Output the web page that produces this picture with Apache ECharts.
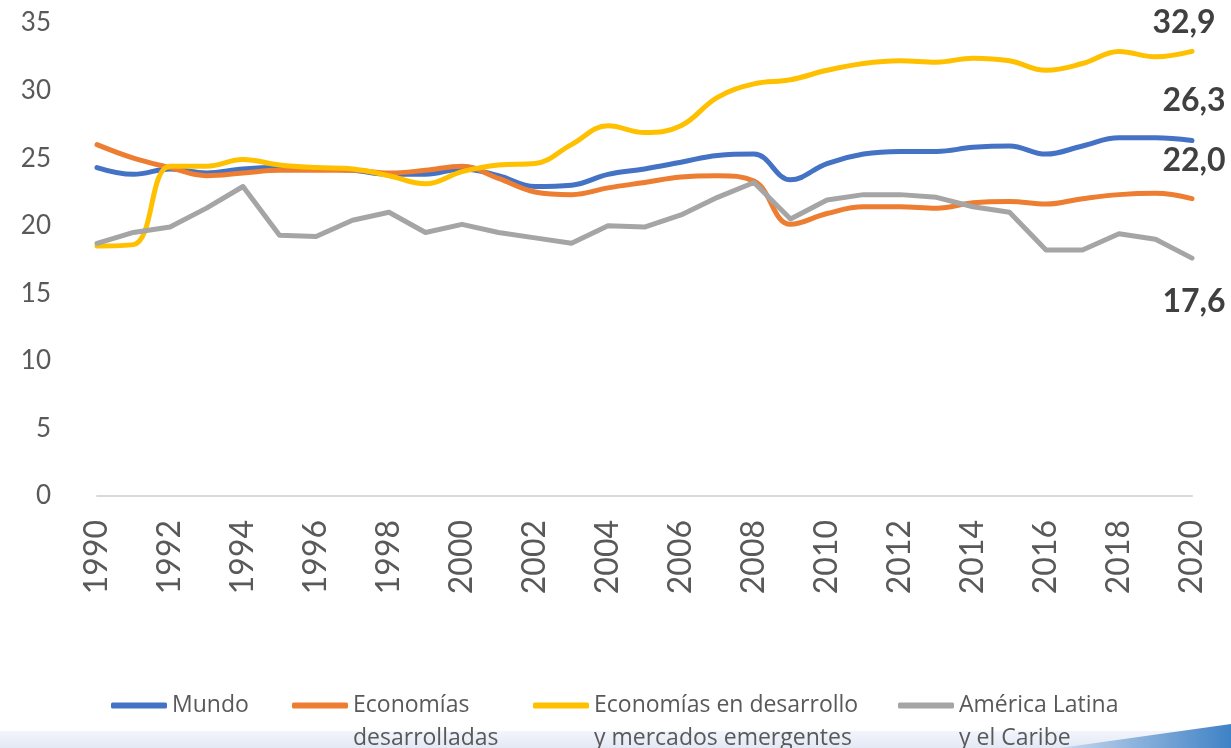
<!DOCTYPE html>
<html>
<head>
<meta charset="utf-8">
<script src="https://cdn.jsdelivr.net/npm/echarts@6/dist/echarts.min.js"></script>
<style>
html,body{margin:0;padding:0;background:#fff;}
#c{width:1231px;height:748px;}
</style>
</head>
<body>
<div id="c"></div>
<script>
const years = ['1990','1991','1992','1993','1994','1995','1996','1997','1998','1999','2000','2001','2002','2003','2004','2005','2006','2007','2008','2009','2010','2011','2012','2013','2014','2015','2016','2017','2018','2019','2020'];
const mundo = [24.3,23.8,24.2,23.9,24.2,24.3,24.2,24.1,23.8,23.8,24.2,23.7,22.9,23.0,23.8,24.2,24.7,25.2,25.3,23.4,24.6,25.3,25.5,25.5,25.8,25.9,25.3,25.9,26.5,26.5,26.3];
const desarrolladas = [26.0,25.0,24.3,23.7,23.9,24.1,24.1,24.1,23.9,24.1,24.4,23.5,22.5,22.3,22.8,23.2,23.6,23.7,23.3,20.1,20.9,21.4,21.4,21.3,21.7,21.8,21.6,22.0,22.3,22.4,22.0];
const emergentes = [18.5,18.6,24.4,24.4,24.9,24.5,24.3,24.2,23.7,23.1,24.0,24.5,24.6,26.0,27.4,26.9,27.4,29.5,30.5,30.8,31.5,32.0,32.2,32.1,32.4,32.2,31.5,32.0,32.9,32.5,32.9];
const latam = [18.7,19.5,19.9,21.3,22.9,19.3,19.2,20.4,21.0,19.5,20.1,19.5,19.1,18.7,20.0,19.9,20.8,22.1,23.2,20.5,21.9,22.3,22.3,22.1,21.4,21.0,18.2,18.2,19.4,19.0,17.6];
const names = ['Mundo','Economías\ndesarrolladas','Economías en desarrollo\ny mercados emergentes','América Latina\ny el Caribe'];
const colors = ['#4472C4','#ED7D31','#FFC000','#A5A5A5'];
const yTicks = {min:0, max:35, interval:5};

const FONT = 'Lato, "Open Sans", sans-serif';
const LFONT = '"Open Sans", Lato, sans-serif';
const fmt = p => Number(p.value).toFixed(1).replace('.', ',');
const labelOffsets = [[2,-40],[2,-38],[-8,-29],[2,44]];

function mkSeries(i, data, smooth){
  return {
    name: names[i], type:'line', data: data, smooth: smooth,
    symbol:'none', lineStyle:{color:colors[i], width:5, cap:'round', join:'round'},
    itemStyle:{color:colors[i]},
    endLabel:{show:true, formatter: fmt, fontFamily: FONT, fontWeight:'bold', fontSize:32, color:'#404040',
      align:'center', verticalAlign:'middle', distance:0, offset: labelOffsets[i]},
    emphasis:{disabled:true}
  };
}

const legendTops = [689,656,656,656];
const legendLefts = [111,292,533,898];
const legends = names.map((n,i)=>({
  data:[n], left: legendLefts[i], top: legendTops[i], padding:0,
  icon:'roundRect', itemWidth:56, itemHeight:6, itemGap:5,
  formatter: i===0 ? '{name}' : '\n{name}',
  textStyle:{fontFamily:LFONT, fontSize:23, color:'#595959', lineHeight:33}
}));

const chart = echarts.init(document.getElementById('c'), null, {renderer:'canvas'});
chart.setOption({
  backgroundColor:'#ffffff',
  animation:false,
  color: colors,
  grid:{left:97, right:39, top:23, bottom:252, containLabel:false},
  xAxis:{type:'category', data:years, boundaryGap:false,
    axisLine:{lineStyle:{color:'#D9D9D9', width:2}},
    axisTick:{show:false},
    axisLabel:{interval:1, rotate:90, fontFamily:FONT, fontSize:32, color:'#595959', margin:24}
  },
  yAxis:{type:'value', min:yTicks.min, max:yTicks.max, interval:yTicks.interval,
    axisLine:{show:false}, axisTick:{show:false}, splitLine:{show:false},
    axisLabel:{fontFamily:FONT, fontSize:26, color:'#595959', margin:46}
  },
  legend: legends,
  graphic:[
    {type:'rect', z:-10, silent:true, shape:{x:0,y:731,width:1231,height:17},
      style:{fill:new echarts.graphic.LinearGradient(0,0,0,1,[{offset:0,color:'#F3F5FB'},{offset:1,color:'#E2E8F5'}])}},
    {type:'polygon', z:-9, silent:true, shape:{points:[[1060,748],[1231,724],[1231,748]]},
      style:{fill:new echarts.graphic.LinearGradient(0,0,1,0,[{offset:0,color:'#C9D9EE'},{offset:1,color:'#3F82C6'}])}}
  ],
  series:[
    mkSeries(0, mundo, 0.4),
    mkSeries(1, desarrolladas, 0.4),
    mkSeries(2, emergentes, 0.4),
    mkSeries(3, latam, false)
  ]
});
</script>
</body>
</html>
